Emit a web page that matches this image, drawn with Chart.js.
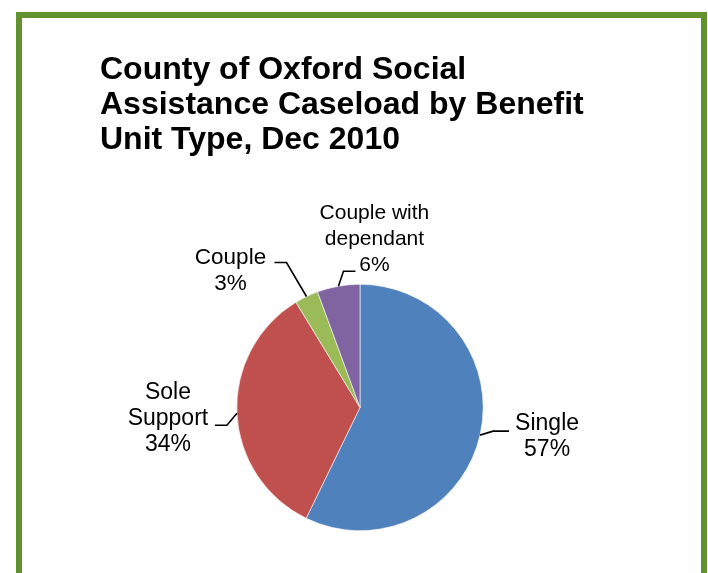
<!DOCTYPE html>
<html>
<head>
<meta charset="utf-8">
<script src="https://cdn.jsdelivr.net/npm/chart.js@4"></script>
<style>
  html, body { margin: 0; padding: 0; background: #fff; }
  #wrap { position: relative; width: 708px; height: 573px; overflow: hidden; }
  #frame { position: absolute; left: 16px; top: 12px; width: 679px; height: 620px;
           border: 6px solid #62922E; box-sizing: content-box; pointer-events: none; }
  canvas { position: absolute; left: 0; top: 0; }
</style>
</head>
<body>
<div id="wrap">
  <canvas id="c" width="708" height="573"></canvas>
  <div id="frame"></div>
</div>
<script>
// ---- data ----
const titleLines = ['County of Oxford Social', 'Assistance Caseload by Benefit', 'Unit Type, Dec 2010'];
const categories = ['Single', 'Sole Support', 'Couple', 'Couple with dependant'];
const labelLines = [['Single'], ['Sole', 'Support'], ['Couple'], ['Couple with', 'dependant']];
const values = [57.2, 34.1, 3.1, 5.6];
const colors = ['#4F81BD', '#C0504D', '#9BBB59', '#8064A2'];

// ---- label layout (offsets from slice edge midpoint) ----
const labelLayout = [
  { elbow: [13, -4], end: [29, -4], text: [67, 2], size: 23 },
  { elbow: [-10, 12], end: [-22, 12], text: [-69, 5], size: 23 },
  { elbow: [-20, -34], end: [-32, -34], text: [-76, -26], size: 22.5 },
  { elbow: [5, -15], end: [17, -15], text: [36, -47], size: 21 }
];
const FONT = "'Liberation Sans', Arial, sans-serif";

const leaderPlugin = {
  id: 'leaderLabels',
  afterDatasetsDraw(chart) {
    const ctx = chart.ctx;
    const meta = chart.getDatasetMeta(0);
    const data = chart.data.datasets[0].data;
    const total = data.reduce((a, b) => a + b, 0);
    meta.data.forEach((arc, i) => {
      const p = arc.getProps(['x', 'y', 'startAngle', 'endAngle', 'outerRadius'], true);
      const mid = (p.startAngle + p.endAngle) / 2;
      const ex = p.x + Math.cos(mid) * p.outerRadius;
      const ey = p.y + Math.sin(mid) * p.outerRadius;
      const L = labelLayout[i];
      ctx.save();
      ctx.strokeStyle = '#000';
      ctx.lineWidth = 1.6;
      ctx.beginPath();
      ctx.moveTo(ex, ey);
      ctx.lineTo(ex + L.elbow[0], ey + L.elbow[1]);
      ctx.lineTo(ex + L.end[0], ey + L.end[1]);
      ctx.stroke();
      const lines = labelLines[i].concat([Math.round(data[i] / total * 100) + '%']);
      const lh = 26;
      const cx = ex + L.text[0], cy = ey + L.text[1];
      ctx.fillStyle = '#000';
      ctx.font = L.size + 'px ' + FONT;
      ctx.textAlign = 'center';
      ctx.textBaseline = 'middle';
      lines.forEach((t, k) => {
        ctx.fillText(t, cx, cy + (k - (lines.length - 1) / 2) * lh);
      });
      ctx.restore();
    });
  }
};

new Chart(document.getElementById('c'), {
  type: 'pie',
  data: {
    labels: categories,
    datasets: [{
      data: values,
      backgroundColor: colors,
      borderColor: '#ffffff',
      borderWidth: 0.6
    }]
  },
  options: {
    responsive: false,
    animation: false,
    layout: { padding: { left: 100, right: 88, top: 0, bottom: 42 } },
    plugins: {
      legend: { display: false },
      tooltip: { enabled: false },
      title: {
        display: true,
        text: titleLines,
        align: 'start',
        color: '#000',
        font: { family: FONT, size: 32, weight: 'bold', lineHeight: '35px' },
        padding: { top: 52.5, bottom: 126.5 }
      }
    }
  },
  plugins: [leaderPlugin]
});
</script>
</body>
</html>
